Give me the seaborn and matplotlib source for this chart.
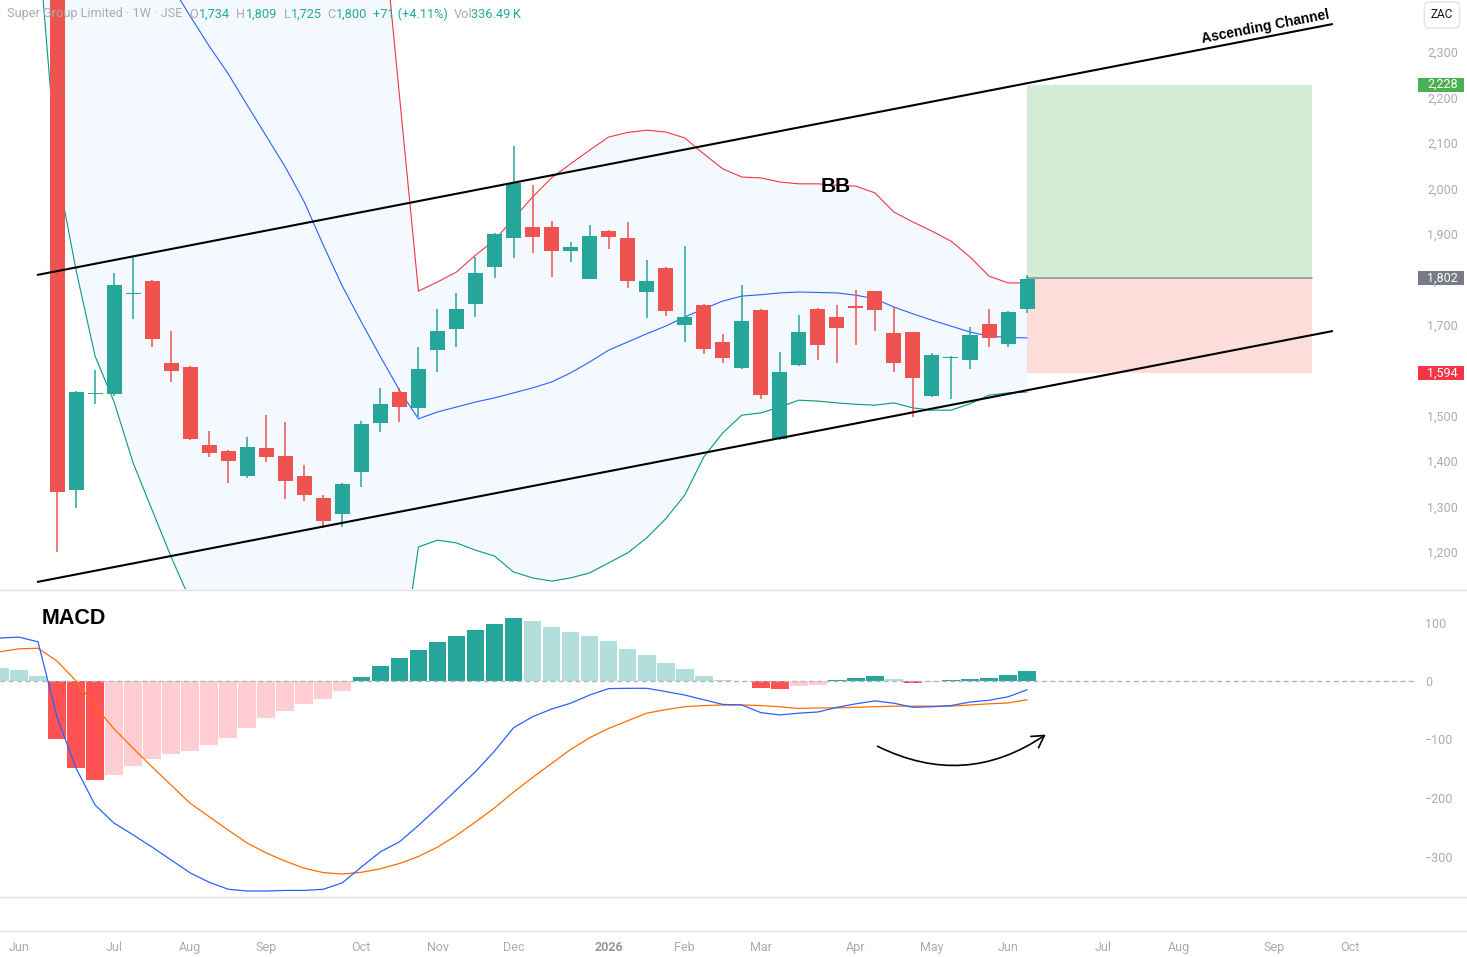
import numpy as np
import pandas as pd
import matplotlib
matplotlib.use("Agg")
import matplotlib.pyplot as plt
import seaborn as sns
from matplotlib.patches import Rectangle, FancyArrowPatch
from matplotlib.lines import Line2D
from matplotlib.transforms import blended_transform_factory

# ---------------- data ----------------
first_week = "2025-06-02"          # week index 0
n_weeks_axis = 71

candle_start = 2                    # first visible candle index
opens = [2690, 1336, 1548, 1547, 1768, 1796, 1615, 1607, 1435, 1422, 1368, 1429, 1411, 1367,
         1319, 1284, 1377, 1484, 1552, 1517, 1644, 1691, 1746, 1827, 1891, 1915, 1915, 1862,
         1801, 1906, 1891, 1772, 1825, 1699, 1743, 1662, 1605, 1732, 1449, 1611, 1735, 1717,
         1741, 1774, 1682, 1684, 1543, 1627, 1622, 1702, 1658, 1734]
highs = [2720, 1555, 1600, 1813, 1850, 1798, 1686, 1610, 1466, 1424, 1453, 1501, 1486, 1391,
         1325, 1352, 1488, 1561, 1561, 1651, 1735, 1770, 1849, 1902, 2093, 2007, 1928, 1882,
         1919, 1909, 1926, 1842, 1826, 1873, 1745, 1680, 1787, 1734, 1640, 1721, 1737, 1743,
         1776, 1775, 1739, 1685, 1638, 1632, 1695, 1735, 1731, 1809]
lows = [1200, 1297, 1525, 1543, 1713, 1650, 1573, 1446, 1410, 1351, 1363, 1399, 1317, 1313,
        1252, 1256, 1344, 1465, 1487, 1496, 1596, 1651, 1717, 1803, 1847, 1858, 1805, 1838,
        1800, 1867, 1781, 1715, 1719, 1662, 1636, 1616, 1603, 1537, 1447, 1610, 1622, 1616,
        1655, 1686, 1596, 1497, 1542, 1537, 1603, 1651, 1651, 1725]
closes = [1333, 1552, 1550, 1787, 1770, 1669, 1599, 1449, 1418, 1401, 1431, 1410, 1357, 1326,
          1269, 1350, 1482, 1525, 1520, 1603, 1686, 1735, 1814, 1900, 2011, 1893, 1862, 1871,
          1895, 1893, 1796, 1796, 1730, 1717, 1647, 1627, 1708, 1545, 1596, 1684, 1655, 1693,
          1736, 1732, 1616, 1583, 1633, 1629, 1677, 1671, 1729, 1800]
volume_label = "336.49\u2009K"

bb_start = 1
bb_upper = [2900, 2880, 2870, 2860, 2850, 2840, 2830, 2820, 2800, 2790, 2780, 2770, 2760, 2750,
            2740, 2720, 2700, 2680, 2640, 2205, 1774, 1794, 1816, 1853, 1886, 1933, 1981, 2023,
            2054, 2084, 2113, 2123, 2128, 2124, 2111, 2076, 2043, 2025, 2023, 2014, 2010, 2010,
            2007, 2005, 1990, 1948, 1926, 1906, 1884, 1849, 1807, 1792, 1792]
bb_basis = [2760, 2730, 2700, 2670, 2640, 2600, 2540, 2447, 2379, 2313, 2252, 2183, 2115, 2047,
            1970, 1875, 1785, 1706, 1630, 1556, 1493, 1508, 1519, 1530, 1539, 1550, 1561, 1574,
            1594, 1618, 1644, 1662, 1680, 1697, 1717, 1735, 1752, 1763, 1766, 1770, 1772, 1771,
            1770, 1765, 1757, 1739, 1724, 1710, 1697, 1684, 1675, 1672, 1671]
bb_lower = [2552, 2040, 1820, 1631, 1530, 1396, 1292, 1189, 1094, 1040, 1000, 980, 960, 950,
            940, 935, 930, 925, 920, 918, 1211, 1226, 1220, 1204, 1191, 1156, 1143, 1136,
            1143, 1154, 1176, 1198, 1231, 1273, 1325, 1409, 1462, 1501, 1506, 1519, 1534, 1532,
            1528, 1525, 1523, 1528, 1517, 1512, 1512, 1526, 1545, 1550, 1552]

macd_start = -1
macd_hist = [22, 19, 8.5, -98.6, -148, -170, -160, -146, -134, -124, -119, -109, -97, -80, -63,
             -51, -39, -30, -17, 7, 25.6, 39, 53, 67, 77, 87, 97, 108, 102.6, 92, 84, 77, 68, 55,
             44, 31, 20.5, 8.5, 1, 0.5, -12, -13.7, -8.5, -6.8, 1, 5, 8.5, 3.4, -3.4, -2, 1, 3.4,
             5, 10, 17]
macd_line = [73.5, 75, 67, -62, -149, -212, -243, -263, -284, -306, -328, -344, -356, -359, -359,
             -358, -358, -356, -345, -318, -292, -275, -247, -217, -186, -155, -120, -80, -61,
             -48, -38, -24, -13, -12.5, -12.5, -18, -24, -32, -40, -41, -54, -58, -55, -53, -45,
             -39, -34, -38, -45, -44, -42, -36, -33, -27, -15]
macd_signal = [50, 55, 56, 34, 0, -43, -82, -115, -147, -178, -209, -232, -255, -277, -294,
               -308, -320, -327.5, -330, -327, -321, -312, -300, -284, -264, -241, -217, -190,
               -165, -141, -117, -97, -81, -68, -55, -49, -44, -42, -41, -41, -42, -44, -47, -46,
               -46, -45, -44, -43, -43, -43, -43, -41, -39, -37.6, -32]

channel_x = [0.946, 69.08]
channel_upper = [1809.4, 2361.6]
channel_lower = [1134.0, 1686.2]

target_price = 2228
entry_price = 1802
stop_price = 1594
position_span = [53, 68]

price_ticks = [1200, 1300, 1400, 1500, 1600, 1700, 1800, 1900, 2000, 2100, 2200, 2300]
macd_ticks = [100, 0, -100, -200, -300]

# ---------------- styling ----------------
sns.set_theme(style="white")
plt.rcParams["font.family"] = ["Roboto", "DejaVu Sans"]

UP = "#26a69a"
DOWN = "#ef5350"
GRAY_TXT = "#a9acb5"
SEP = "#e0e3eb"

W, H = 1467, 957
fig = plt.figure(figsize=(W / 100, H / 100), dpi=100)
fig.patch.set_facecolor("white")


def fy(py):
    return 1 - py / H


ax1 = fig.add_axes([0, fy(589), 1, 589 / H])
ax2 = fig.add_axes([0, fy(931), 1, (931 - 590) / H], sharex=ax1)

x_lo = -19 / 19.02
x_hi = (W - 19) / 19.02
for ax in (ax1, ax2):
    ax.set_facecolor("none")
    for s in ax.spines.values():
        s.set_visible(False)
    ax.grid(False)
ax1.set_xlim(x_lo, x_hi)
ax1.set_ylim(2414.4 - 2.2 * 589, 2414.4)
ax2.set_ylim((681 - 931) / 0.585, (681 - 590) / 0.585)

# ---------------- price pane ----------------
bx = np.arange(bb_start, bb_start + len(bb_upper))
ax1.fill_between(bx, bb_lower, bb_upper, color="#2196f3", alpha=0.05, linewidth=0, zorder=1)
sns.lineplot(x=bx, y=bb_upper, ax=ax1, color="#f23645", lw=0.8, zorder=2)
sns.lineplot(x=bx, y=bb_basis, ax=ax1, color="#2962ff", lw=0.8, zorder=2)
sns.lineplot(x=bx, y=bb_lower, ax=ax1, color="#089981", lw=0.8, zorder=2)

# long position box
ax1.add_patch(Rectangle((position_span[0], entry_price), position_span[1] - position_span[0],
                        target_price - entry_price, facecolor="#4caf50", alpha=0.24,
                        linewidth=0, zorder=1.5))
ax1.add_patch(Rectangle((position_span[0], stop_price), position_span[1] - position_span[0],
                        entry_price - stop_price, facecolor="#f44336", alpha=0.18,
                        linewidth=0, zorder=1.5))
ax1.plot(position_span, [entry_price, entry_price], color="#8a8d96", lw=1.1, zorder=1.6)

# candles
o = np.array(opens, float)
h = np.array(highs, float)
l = np.array(lows, float)
c = np.array(closes, float)
cx = np.arange(candle_start, candle_start + len(o))
col = np.where(c >= o, UP, DOWN)
ax1.vlines(cx, l, h, colors=col, lw=1.1, zorder=3)
body_b = np.minimum(o, c)
body_h = np.maximum(np.abs(c - o), 2.4)
ax1.bar(cx, body_h, bottom=body_b, width=0.79, color=col, linewidth=0, zorder=3.1)

# channel
ax1.plot(channel_x, channel_upper, color="black", lw=1.5, zorder=4, solid_capstyle="butt")
ax1.plot(channel_x, channel_lower, color="black", lw=1.5, zorder=4, solid_capstyle="butt")

ax1.text((836 - 19) / 19.02, 2003, "BB", fontsize=15, fontweight="bold", ha="center",
         va="center", color="black", family=["Liberation Sans", "DejaVu Sans"], zorder=5)

# right price scale
ax1.yaxis.tick_right()
ax1.set_yticks(price_ticks)
ax1.set_yticklabels([f"{v:,}" for v in price_ticks])
ax1.tick_params(axis="y", length=0, pad=-(W - 1427) * 0.72, labelsize=9, labelcolor=GRAY_TXT)
for lab in ax1.get_yticklabels():
    lab.set_horizontalalignment("left")
ax1.tick_params(axis="x", length=0, labelbottom=False)

btr = blended_transform_factory(ax1.transAxes, ax1.transData)
for val, fc in [(target_price, "#4caf50"), (entry_price, "#787b86"), (stop_price, "#f23645")]:
    ax1.add_patch(Rectangle((1418 / W, val - 15.4), 46 / W, 30.8, transform=btr,
                            facecolor=fc, edgecolor="none", clip_on=False, zorder=6))
    ax1.text(1427 / W, val, f"{val:,}", transform=btr, ha="left", va="center",
             color="white", fontsize=9, zorder=7, clip_on=False)

# ---------------- MACD pane ----------------
mx = np.arange(macd_start, macd_start + len(macd_hist))
hist = np.array(macd_hist, float)
prev = np.concatenate([[hist[0] + 1], hist[:-1]])
hcol = []
for v, p in zip(hist, prev):
    if v >= 0:
        hcol.append("#26a69a" if v > p else "#b2dfdb")
    else:
        hcol.append("#ff5252" if v < p else "#ffcdd2")
ax2.bar(mx, hist, width=0.93, color=hcol, linewidth=0, zorder=1)
ax2.axhline(0, xmin=0, xmax=1416 / W, color="#b2b5be", lw=1, ls=(0, (3.5, 2.5)), zorder=2)
sns.lineplot(x=mx, y=macd_signal, ax=ax2, color="#ff6d00", lw=0.9, zorder=3)
sns.lineplot(x=mx, y=macd_line, ax=ax2, color="#2962ff", lw=0.9, zorder=3.1)

arrow = FancyArrowPatch(((875 - 19) / 19.02, (681 - 745) / 0.585),
                        ((1048 - 19) / 19.02, (681 - 733) / 0.585),
                        connectionstyle="arc3,rad=0.3",
                        arrowstyle="->,head_length=0.6,head_width=0.35",
                        mutation_scale=14, color="black", lw=1.2, zorder=5)
ax2.add_patch(arrow)

ax2.yaxis.tick_right()
ax2.set_yticks(macd_ticks)
ax2.set_yticklabels([str(v).replace("-", "\u2212") for v in macd_ticks])
ax2.tick_params(axis="y", length=0, pad=-(W - 1425) * 0.72, labelsize=9, labelcolor=GRAY_TXT)
for lab in ax2.get_yticklabels():
    lab.set_horizontalalignment("left")
    lab.set_family(["DejaVu Sans"]) if False else None

# time axis
weeks = pd.date_range(first_week, periods=n_weeks_axis, freq="7D")
tick_pos, tick_lab = [], []
for i, d in enumerate(weeks):
    if i == 0 or d.month != weeks[i - 1].month:
        tick_pos.append(i)
        tick_lab.append(str(d.year) if d.month == 1 else d.strftime("%b"))
ax2.set_xticks(tick_pos)
ax2.set_xticklabels(tick_lab)
ax2.tick_params(axis="x", length=0, pad=7, labelsize=9, labelcolor=GRAY_TXT)
for lab in ax2.get_xticklabels():
    if lab.get_text().isdigit():
        lab.set_fontweight("bold")
        lab.set_color("#9598a1")
ax2.set_xlim(x_lo, x_hi)

fig.text(42 / W, fy(618), "MACD", fontsize=15.5, fontweight="bold", ha="left", va="center",
         color="black", family=["Liberation Sans", "DejaVu Sans"])

# separators
for py in (589.5, 897, 931):
    fig.add_artist(Line2D([0, 1], [fy(py), fy(py)], color=SEP, lw=1, transform=fig.transFigure))

# Ascending channel label
fig.text(1265 / W, fy(27), "Ascending Channel", fontsize=10, fontweight="bold",
         rotation=10.96, rotation_mode="anchor", ha="center", va="center", color="black",
         family=["Liberation Sans", "DejaVu Sans"])

# ZAC box
fig.text(1442 / W, fy(15), "ZAC", fontsize=8.5, ha="center", va="center", color="#131722",
         bbox=dict(boxstyle="round,pad=0.55,rounding_size=0.4", fc="white", ec="#e0e3eb", lw=1))

# header
chg = closes[-1] - closes[-2]
pct = chg / closes[-2] * 100
teal = "#22ab94"
pieces = [
    ("Super Group Limited \u00b7 1W \u00b7 JSE", GRAY_TXT, 7),
    ("O", GRAY_TXT, 189), (f"{opens[-1]:,}", teal, 199),
    ("H", GRAY_TXT, 236), (f"{highs[-1]:,}", teal, 246),
    ("L", GRAY_TXT, 284), (f"{lows[-1]:,}", teal, 291),
    ("C", GRAY_TXT, 327), (f"{closes[-1]:,}", teal, 336),
    (f"{chg:+d} ({pct:+.2f}%)", teal, 373),
    ("Vol", GRAY_TXT, 454), (volume_label, teal, 471),
]
for txt, colr, px in pieces:
    fig.text(px / W, fy(14), txt, fontsize=9.2, color=colr, ha="left", va="center")

fig.savefig("out.png", dpi=100, facecolor="white")
